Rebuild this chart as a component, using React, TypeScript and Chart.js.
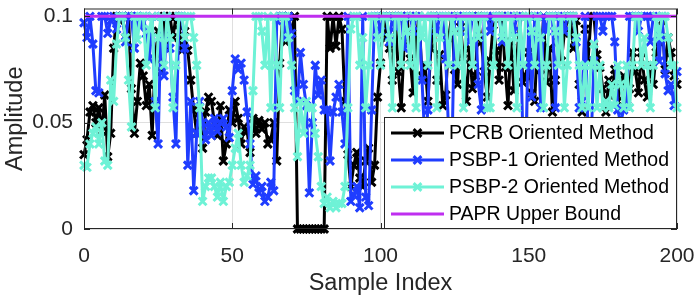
import React, { useEffect, useRef } from 'react';
import { Chart, registerables } from 'chart.js';

Chart.register(...registerables);

// ---------------- data ----------------
const xTicks = [0, 50, 100, 150, 200];
const yTicks = [0, 0.05, 0.1];
const paprBoundX = [0, 200];
const paprBoundY = [0.1, 0.1];

const pcrb = [
  0.035, 0.042, 0.055, 0.058, 0.05, 0.057, 0.046, 0.063, 0.034, 0.045,
  0.085, 0.1, 0.098, 0.1, 0.09, 0.1, 0.066, 0.045, 0.06, 0.078,
  0.072, 0.058, 0.068, 0.044, 0.08, 0.093, 0.074, 0.1, 0.085, 0.1,
  0.09, 0.1, 0.096, 0.084, 0.093, 0.084, 0.07, 0.056, 0.045, 0.052,
  0.038, 0.055, 0.062, 0.06, 0.05, 0.044, 0.058, 0.032, 0.04, 0.056,
  0.05, 0.06, 0.052, 0.04, 0.048, 0.046, 0.036, 0.052, 0.045, 0.051,
  0.047, 0.05, 0.04, 0.042, 0.05, 0.032, 0.078, 0.1, 0.088, 0.1,
  0.092, 0.1, 0, 0, 0, 0, 0, 0, 0, 0,
  0, 0, 0.1, 0.085, 0.1, 0.086, 0.1, 0.094, 0.06, 0.035,
  0.02, 0.03, 0.036, 0.024, 0.02, 0.032, 0.038, 0.022, 0.03, 0.062,
  0.078, 0.1, 0.09, 0.085, 0.07, 0.1, 0.074, 0.057, 0.088, 0.1,
  0.08, 0.064, 0.09, 0.1, 0.072, 0.077, 0.06, 0.085, 0.1, 0.07,
  0.082, 0.058, 0.063, 0.09, 0.1, 0.075, 0.068, 0.095, 0.08, 0.06,
  0.085, 0.066, 0.072, 0.1, 0.088, 0.074, 0.062, 0.079, 0.096, 0.084,
  0.07, 0.1, 0.076, 0.058, 0.088, 0.065, 0.08, 0.1, 0.069, 0.072,
  0.083, 0.064, 0.06, 0.09, 0.075, 0.1, 0.069, 0.085, 0.055, 0.07,
  0.088, 0.079, 0.092, 0.098, 0.1, 0.085, 0.098, 0.068, 0.055, 0.094,
  0.079, 0.1, 0.1, 0.082, 0.076, 0.066, 0.055, 0.07, 0.062, 0.075,
  0.06, 0.068, 0.072, 0.058, 0.066, 0.083, 0.074, 0.064, 0.083, 0.07,
  0.062, 0.077, 0.068, 0.083, 0.088, 0.098, 0.075, 0.09, 0.083, 0.072,
  0.068,
];

const psbp1 = [
  0.097, 0.09, 0.1, 0.087, 0.065, 0.064, 0.1, 0.1, 0.092, 0.098,
  0.1, 0.094, 0.1, 0.1, 0.088, 0.1, 0.1, 0.085, 0.1, 0.095,
  0.1, 0.092, 0.08, 0.1, 0.06, 0.04, 0.1, 0.072, 0.1, 0.085,
  0.062, 0.04, 0.1, 0.1, 0.085, 0.03, 0.06, 0.018, 0.045, 0.06,
  0.05, 0.042, 0.05, 0.044, 0.052, 0.046, 0.05, 0.052, 0.048, 0.043,
  0.065, 0.08, 0.075, 0.078, 0.07, 0.055, 0.04, 0.021, 0.025, 0.017,
  0.02, 0.013, 0.015, 0.022, 0.018, 0.098, 0.1, 0.1, 0.09, 0.1,
  0.092, 0.065, 0.06, 0.083, 0.068, 0.058, 0.017, 0.05, 0.077, 0.063,
  0.07, 0.056, 0.056, 0.032, 0.055, 0.062, 0.068, 0.055, 0.04, 0.1,
  0.013, 0.016, 0.02, 0.01, 0.1, 0.015, 0.011, 0.056, 0.1, 0.1,
  0.093, 0.1, 0.1, 0.088, 0.1, 0.095, 0.1, 0.1, 0.085, 0.1,
  0.1, 0.093, 0.1, 0.1, 0.07, 0.04, 0.056, 0.1, 0.1, 0.093,
  0.1, 0.1, 0.08, 0.045, 0.03, 0.1, 0.1, 0.093, 0.1, 0.1,
  0.088, 0.1, 0.1, 0.068, 0.056, 0.1, 0.1, 0.093, 0.1, 0.1,
  0.1, 0.088, 0.1, 0.1, 0.1, 0.093, 0.1, 0.1, 0.045, 0.035,
  0.1, 0.062, 0.1, 0.1, 0.057, 0.1, 0.093, 0.1, 0.1, 0.057,
  0.1, 0.1, 0.093, 0.1, 0.1, 0.1, 0.088, 0.057, 0.06, 0.1,
  0.045, 0.04, 0.079, 0.1, 0.1, 0.093, 0.1, 0.1, 0.1, 0.088,
  0.056, 0.05, 0.056, 0.058, 0.1, 0.1, 0.1, 0.093, 0.1, 0.1,
  0.1, 0.088, 0.1, 0.1, 0.079, 0.1, 0.073, 0.065, 0.068, 0.058,
  0.074,
];

const psbp2 = [
  0.03, 0.029, 0.04, 0.045, 0.048, 0.04, 0.05, 0.032, 0.03, 0.07,
  0.06, 0.087, 0.1, 0.1, 0.09, 0.07, 0.048, 0.1, 0.089, 0.1,
  0.1, 0.077, 0.094, 0.1, 0.057, 0.09, 0.1, 0.077, 0.1, 0.09,
  0.057, 0.077, 0.1, 0.1, 0.09, 0.1, 0.1, 0.09, 0.077, 0.057,
  0.013, 0.02, 0.024, 0.024, 0.02, 0.015, 0.022, 0.013, 0.02, 0.022,
  0.03, 0.038, 0.045, 0.03, 0.022, 0.025, 0.03, 0.065, 0.1, 0.1,
  0.093, 0.077, 0.1, 0.057, 0.1, 0.077, 0.057, 0.1, 0.1, 0.09,
  0.077, 0.057, 0.034, 0.06, 0.045, 0.06, 0.057, 0.057, 0.045, 0.034,
  0.02, 0.012, 0.015, 0.01, 0.013, 0.01, 0.012, 0.012, 0.02, 0.057,
  0.094, 0.1, 0.1, 0.077, 0.09, 0.057, 0.077, 0.1, 0.1, 0.09,
  0.077, 0.1, 0.1, 0.09, 0.057, 0.1, 0.1, 0.077, 0.1, 0.093,
  0.077, 0.1, 0.057, 0.1, 0.09, 0.1, 0.077, 0.1, 0.1, 0.057,
  0.09, 0.1, 0.1, 0.077, 0.1, 0.093, 0.077, 0.1, 0.057, 0.1,
  0.1, 0.077, 0.1, 0.09, 0.1, 0.1, 0.057, 0.057, 0.077, 0.1,
  0.1, 0.09, 0.1, 0.077, 0.1, 0.09, 0.057, 0.1, 0.077, 0.1,
  0.1, 0.093, 0.077, 0.1, 0.09, 0.057, 0.077, 0.1, 0.1, 0.093,
  0.077, 0.1, 0.057, 0.077, 0.1, 0.1, 0.09, 0.077, 0.057, 0.077,
  0.057, 0.077, 0.087, 0.057, 0.077, 0.057, 0.06, 0.057, 0.068, 0.058,
  0.077, 0.068, 0.057, 0.077, 0.057, 0.077, 0.1, 0.1, 0.077, 0.09,
  0.077, 0.057, 0.077, 0.1, 0.09, 0.1, 0.1, 0.09, 0.077, 0.077,
  0.057,
];

const seriesLabels = [
  'PCRB Oriented Method',
  'PSBP-1 Oriented Method',
  'PSBP-2 Oriented Method',
  'PAPR Upper Bound',
];

// ---------------- styles ----------------
const FONT = '"Liberation Sans", Arial, Helvetica, sans-serif';
const AX = '#262626';
const COLORS = ['#000000', '#1f3dff', '#6ef2d6', '#bf2ef0'];

const toPoints = (ys: number[]) => ys.map((y, i) => ({ x: i, y }));

const zeroPadding = (s: any) => {
  s.paddingLeft = 0;
  s.paddingRight = 0;
  s.paddingTop = 0;
  s.paddingBottom = 0;
};

const boxLegendPlugin = {
  id: 'matlabBoxLegend',
  afterDatasetsDraw(chart: any) {
    const { ctx, chartArea: a, scales } = chart;
    ctx.save();
    // inward tick marks
    ctx.strokeStyle = AX;
    ctx.lineWidth = 1;
    const tl = 6;
    ctx.beginPath();
    scales.x.ticks.forEach((t: any) => {
      const px = Math.round(scales.x.getPixelForValue(t.value)) + 0.5;
      ctx.moveTo(px, a.bottom);
      ctx.lineTo(px, a.bottom - tl);
      ctx.moveTo(px, a.top);
      ctx.lineTo(px, a.top + tl);
    });
    scales.y.ticks.forEach((t: any) => {
      const py = Math.round(scales.y.getPixelForValue(t.value)) + 0.5;
      ctx.moveTo(a.left, py);
      ctx.lineTo(a.left + tl, py);
      ctx.moveTo(a.right, py);
      ctx.lineTo(a.right - tl, py);
    });
    ctx.stroke();
    // axes box
    ctx.strokeRect(a.left + 0.5, a.top + 0.5, a.right - a.left - 1, a.bottom - a.top - 1);

    // legend
    const lx = 384;
    const ly = 117;
    const lw = a.right - lx;
    const lh = a.bottom - ly;
    ctx.fillStyle = '#ffffff';
    ctx.fillRect(lx, ly, lw, lh);
    ctx.strokeStyle = AX;
    ctx.lineWidth = 1;
    ctx.strokeRect(lx + 0.5, ly + 0.5, lw - 1, lh - 1);

    const ds = chart.data.datasets;
    ds.forEach((d: any, i: number) => {
      const y = ly + 16 + 27 * i;
      ctx.strokeStyle = d.borderColor;
      ctx.lineWidth = d.borderWidth;
      ctx.lineCap = 'butt';
      ctx.beginPath();
      ctx.moveTo(lx + 7, y);
      ctx.lineTo(lx + 60, y);
      ctx.stroke();
      if (d.pointRadius > 0) {
        const cx = lx + 33.5;
        const r = d.pointRadius * 0.7071;
        ctx.lineWidth = d.pointBorderWidth;
        ctx.beginPath();
        ctx.moveTo(cx - r, y - r);
        ctx.lineTo(cx + r, y + r);
        ctx.moveTo(cx - r, y + r);
        ctx.lineTo(cx + r, y - r);
        ctx.stroke();
      }
      ctx.fillStyle = '#000000';
      ctx.font = `19.5px ${FONT}`;
      ctx.textAlign = 'left';
      ctx.textBaseline = 'middle';
      ctx.fillText(d.label, lx + 65, y + 1);
    });
    ctx.restore();
  },
};

export default function App() {
  const canvasRef = useRef<HTMLCanvasElement | null>(null);

  useEffect(() => {
    if (!canvasRef.current) return;
    const markerSet = (idx: number, ys: number[], order: number) => ({
      label: seriesLabels[idx],
      data: toPoints(ys),
      borderColor: COLORS[idx],
      backgroundColor: COLORS[idx],
      borderWidth: 3,
      pointStyle: 'crossRot',
      pointRadius: 5.5,
      pointBorderWidth: 3,
      pointBorderColor: COLORS[idx],
      pointBackgroundColor: COLORS[idx],
      borderJoinStyle: 'round',
      tension: 0,
      order,
      clip: 8,
    });

    const chart = new Chart(canvasRef.current, {
      type: 'line',
      data: {
        datasets: [
          markerSet(0, pcrb, 4),
          markerSet(1, psbp1, 3),
          markerSet(2, psbp2, 2),
          {
            label: seriesLabels[3],
            data: paprBoundX.map((x, i) => ({ x, y: paprBoundY[i] })),
            borderColor: COLORS[3],
            backgroundColor: COLORS[3],
            borderWidth: 3,
            pointRadius: 0,
            pointBorderWidth: 0,
            order: 1,
          },
        ] as any,
      },
      options: {
        responsive: false,
        animation: false,
        events: [],
        layout: { padding: { top: 7, right: 21, left: 0, bottom: 0 } },
        plugins: {
          legend: { display: false },
          tooltip: { enabled: false },
        },
        scales: {
          x: {
            type: 'linear',
            min: 0,
            max: 200,
            afterBuildTicks: (s: any) => {
              s.ticks = xTicks.map((v) => ({ value: v }));
            },
            afterFit: (s: any) => {
              s.height = 71;
              zeroPadding(s);
            },
            ticks: {
              color: AX,
              font: { family: FONT, size: 21 },
              padding: 15,
              maxRotation: 0,
              callback: (v: any) => String(v),
            },
            grid: { color: '#dfdfdf', lineWidth: 1, drawTicks: false },
            border: { display: false },
            title: {
              display: true,
              text: 'Sample Index',
              color: AX,
              font: { family: FONT, size: 23.5 },
              padding: { top: 0, bottom: 2 },
            },
          },
          y: {
            type: 'linear',
            min: 0,
            max: 0.1037,
            afterBuildTicks: (s: any) => {
              s.ticks = yTicks.map((v) => ({ value: v }));
            },
            afterFit: (s: any) => {
              s.width = 84;
              zeroPadding(s);
            },
            ticks: {
              color: AX,
              font: { family: FONT, size: 21 },
              padding: 11,
              callback: (v: any) => String(v),
            },
            grid: { color: '#dfdfdf', lineWidth: 1, drawTicks: false },
            border: { display: false },
            title: {
              display: true,
              text: 'Amplitude',
              color: AX,
              font: { family: FONT, size: 23.5 },
              padding: { top: 1, bottom: 0 },
            },
          },
        },
      } as any,
      plugins: [boxLegendPlugin],
    });
    return () => chart.destroy();
  }, []);

  return (
    <div style={{ position: 'absolute', left: 0, top: 0, width: 698, height: 300, background: '#ffffff' }}>
      <canvas ref={canvasRef} width={698} height={300} style={{ display: 'block', width: 698, height: 300 }} />
    </div>
  );
}
